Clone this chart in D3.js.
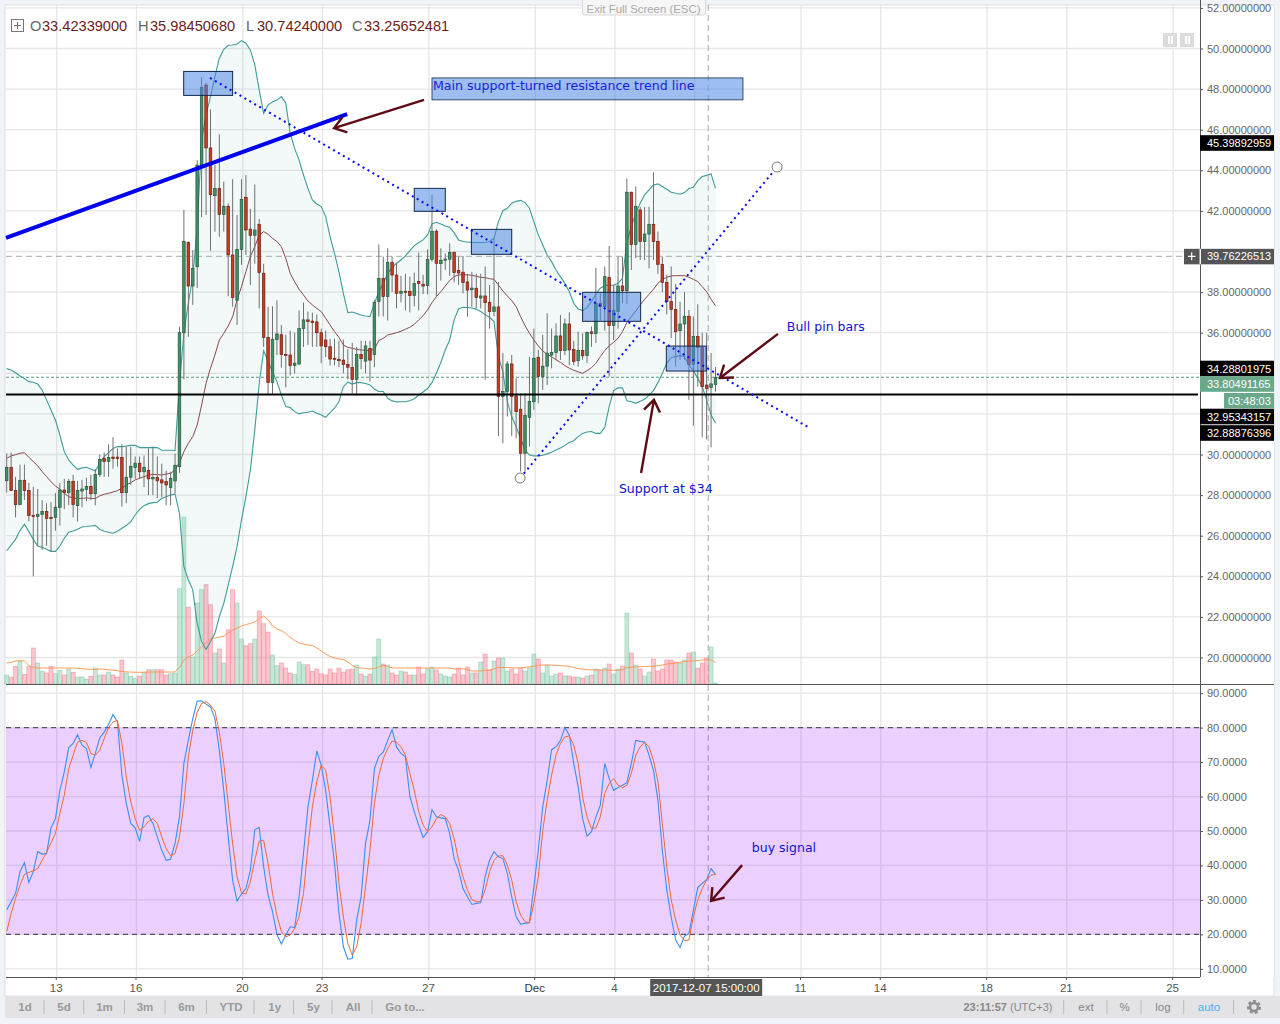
<!DOCTYPE html>
<html>
<head>
<meta charset="utf-8">
<script src="https://cdn.jsdelivr.net/npm/d3@7"></script>
<style>
  html, body { margin: 0; padding: 0; background: #f0f3f8; }
  svg { display: block; font-family: "Liberation Sans", Arial, sans-serif; }
  .domain { display: none; }
</style>
</head>
<body>
<script>
// one candle every 4 hours
var opens = [
  28.71,29.37,28.22,27.53,28.73,28.22,27.0,26.95,27.04,27.2,
  26.9,26.9,27.4,28.25,28.12,28.68,27.48,28.2,28.27,28.43,
  28.07,29.02,29.8,29.65,29.87,29.87,29.86,28.12,28.88,29.37,
  29.57,29.15,29.22,28.8,28.87,28.75,28.67,28.37,28.7,29.4,
  36.0,40.45,38.3,39.25,44.26,48.2,45.1,42.75,43.1,41.83,
  42.23,39.83,37.6,40.1,42.67,41.1,40.8,41.34,38.93,35.77,
  33.54,35.66,35.9,34.93,34.9,34.38,34.46,36.2,36.63,36.57,
  36.53,36.0,35.64,35.31,34.74,34.69,34.65,34.44,34.28,33.7,
  34.93,34.6,35.23,34.93,37.53,38.68,37.78,39.47,38.84,37.94,
  38.04,38.04,37.83,38.53,38.39,38.32,39.6,41.0,39.4,39.57,
  39.62,39.96,39.07,38.98,38.5,38.12,38.19,37.71,37.81,37.5,
  37.04,37.27,32.85,33.11,34.46,32.88,32.23,30.06,31.83,32.6,
  34.79,33.84,34.35,34.9,35.02,35.84,35.12,36.43,35.18,34.62,
  35.13,34.87,36.04,35.96,37.45,37.28,38.73,36.35,37.04,38.3,
  38.07,42.92,40.34,42.05,40.49,40.86,41.34,40.5,39.37,38.48,
  37.53,37.14,36.1,36.43,36.81,34.44,35.81,35.3,33.42,33.3,
  33.45]
var closes = [
  29.37,28.22,27.53,28.73,28.22,26.99,26.95,27.05,27.2,26.85,
  26.85,27.4,28.25,28.12,28.68,27.53,28.22,28.3,28.43,28.07,
  29.02,29.76,29.65,29.86,29.8,29.8,28.12,28.88,29.42,29.57,
  29.15,29.37,28.8,28.87,28.7,28.6,28.5,28.83,29.47,36.0,
  40.5,38.3,39.17,44.26,48.09,45.1,42.8,43.1,41.83,42.23,
  39.83,37.73,40.1,42.57,41.06,40.8,41.06,38.96,35.77,33.54,
  35.67,35.94,34.93,34.87,34.38,34.5,36.2,36.63,36.55,36.5,
  36.0,35.35,35.31,34.7,34.69,34.62,34.44,34.3,33.7,34.93,
  34.72,35.35,34.65,37.5,38.68,37.78,39.47,38.84,37.94,38.04,
  38.0,37.83,38.43,38.42,38.3,39.6,41.0,39.42,39.57,39.63,
  39.95,38.96,38.94,38.47,38.1,38.2,37.73,37.81,37.48,37.04,
  37.27,32.85,33.11,34.46,32.85,32.11,30.06,31.93,32.62,34.74,
  33.84,34.35,34.99,35.03,35.84,35.12,36.43,35.15,34.58,35.13,
  34.86,36.02,35.96,37.45,37.28,38.76,36.35,37.1,38.3,38.07,
  42.92,40.34,42.23,40.49,40.86,41.34,40.49,39.37,38.48,37.53,
  37.14,36.05,36.43,36.81,34.44,35.81,35.27,33.34,33.26,33.48,
  33.8]
var highs = [
  30.06,30.1,28.9,29.5,29.5,28.6,28.4,28.3,27.75,27.6,
  27.65,28.1,28.6,28.8,28.8,29.0,28.7,28.75,28.85,29.0,
  29.3,30.0,30.1,30.5,30.85,30.3,30.5,30.4,30.38,29.9,
  29.9,29.95,30.3,30.35,29.9,29.55,29.2,29.15,30.05,36.3,
  42.05,40.5,40.07,44.5,48.58,48.3,47.0,44.26,45.77,43.44,
  42.37,43.56,41.8,43.56,43.77,42.1,43.3,41.6,39.4,37.27,
  37.3,37.6,36.38,35.9,36.1,36.0,37.1,37.48,37.04,36.99,
  36.9,36.2,36.1,35.7,35.7,35.6,35.66,35.2,35.5,35.3,
  35.6,35.6,35.6,37.6,40.35,39.75,40.16,39.75,39.4,38.8,
  38.9,38.76,38.96,39.95,38.85,40.1,42.79,41.1,40.16,39.9,
  40.4,40.0,39.75,39.78,38.9,39.0,38.9,38.9,39.26,38.35,
  40.65,38.5,35.0,34.6,34.9,33.75,33.0,33.0,34.8,36.2,
  35.15,35.9,36.96,36.2,36.46,36.87,36.7,37.0,35.6,36.05,
  35.97,36.05,36.3,39.2,37.95,39.26,40.27,38.35,39.75,39.75,
  43.6,42.95,43.2,42.2,42.2,42.2,43.9,40.98,39.75,38.85,
  39.26,38.4,37.53,38.0,37.12,36.8,37.4,36.0,35.98,35.0,
  34.3]
var lows = [
  28.12,28.2,26.9,27.5,27.76,26.7,24.0,25.5,25.3,25.5,
  25.2,26.25,26.5,27.3,27.5,26.9,26.7,27.4,27.7,27.75,
  27.5,28.9,28.9,28.9,29.3,29.4,27.43,27.6,28.5,28.8,
  28.8,28.4,28.0,28.0,27.85,27.9,27.5,27.5,28.1,29.1,
  33.7,35.8,37.37,38.2,41.7,41.8,40.04,40.98,40.73,40.98,
  37.8,37.28,36.38,39.34,39.83,38.35,39.4,37.2,35.3,32.93,
  32.93,34.9,34.28,33.3,33.9,34.0,34.4,35.3,35.4,35.3,
  35.3,34.5,34.8,34.38,34.4,34.3,34.0,33.7,33.0,32.9,
  34.2,34.0,33.6,34.3,36.79,36.8,36.6,38.0,37.2,37.5,
  37.1,37.0,37.3,37.1,37.9,37.89,39.5,37.8,38.57,39.1,
  38.8,38.48,38.35,37.94,36.79,37.28,37.2,37.2,33.67,36.2,
  36.8,30.9,30.55,31.87,30.9,30.8,29.16,29.16,30.4,32.2,
  32.52,33.18,33.43,34.25,34.66,34.66,34.9,34.4,34.4,34.33,
  34.66,34.5,35.3,35.5,36.6,36.1,33.84,35.64,36.2,37.45,
  37.4,39.09,39.67,39.58,39.58,39.17,39.58,38.9,38.0,36.9,
  35.73,34.33,34.66,34.66,32.69,31.42,33.34,30.85,30.74,30.35,
  33.1]
// volume in arbitrary units, the price pane has no volume axis
var volumes = [
  8.7,7,17.7,22.7,9.7,17.7,36,21,13,11,
  17.7,10.3,13.7,9,15,11.7,7,7,5,7.7,
  16,9,9,12,9,7,24,11,7.7,5.7,
  8,11.7,14.3,14.3,14.3,14.3,9,10.3,11,95.3,
  167,77,27,81,94.3,99.3,79.3,31,35,21,
  54.3,94.3,81,45,38.3,40.3,45,73,60.3,52,
  29,18.3,21,16,11,9.7,22,19.3,19.3,12.7,
  15,10.3,9,15,11,16,12,14.3,15,19,
  10,8,10,27,45,20,19,11,9,13,
  12,9,9,17,10,15.3,17,14,10,8,
  7,10,16,9,17,11,11,22,30,14,
  23,26,26,13,15,10,16,13,16,30,
  25,11,19,8,10,11,8,8,7,7,
  6,8,9,15,14,16,20,10,15,18,
  71,31,19,15,8,12,25,13,15,24,
  24,22,21,24,31,32,16,21,26,37,
  1]
var volumeMA = [
  21,21.7,23,23.2,23.3,18.3,17,16,16,16,
  16,16,16,16,16,16,15.5,15.3,15,14.6,
  14.6,15,14.7,14.2,13.8,13.2,12.6,12.1,12,11.8,
  11.7,11.8,12,12,12,12,12,12,12,16.5,
  24,27,29,33,37,41,45,46,47,47.7,
  51,54,56,58,59.5,60.5,62,65.5,68,64.3,
  58,55,53.5,50.5,46.5,43.5,41,40,39,38.6,
  36,33,30,27.5,26,25,24.5,22,18.5,16.5,
  16,15.5,15,15.5,17,18.7,17.5,16,16,16,
  16,16,16,16,16,16,16,16,16,16,
  16,15,15,15.3,14.5,13,13,13.2,13.5,14,
  15,16.7,16.4,16.5,16.3,16,16.2,16.8,17.2,17.7,
  18.5,19,19,19,18.5,18.3,18,17.7,16.5,15.5,
  15,14.3,14.2,14.1,14,14,13.8,13.7,13.7,14.5,
  16.5,16.8,17,17.2,17.5,17.7,17.7,18.3,19,20,
  20.5,21,21.7,22.5,23,23,23.5,24,24.3,24,
  21.7]
var bandUpper = [
  34.23,34.16,34.03,33.87,33.74,33.59,33.56,33.47,33.18,32.69,
  32.19,31.7,30.96,30.14,29.73,29.48,29.27,29.34,29.37,29.29,
  29.19,29.57,29.9,30.09,30.3,30.39,30.39,30.42,30.45,30.45,
  30.34,30.34,30.34,30.35,30.34,30.21,30.21,30.21,30.2,33.5,
  36.0,37.45,38.76,41.2,45.5,46.73,47.63,48.61,49.52,49.96,
  50.16,50.17,50.22,50.39,50.26,49.93,49.19,47.96,46.81,47.22,
  47.37,47.46,47.63,47.3,45.82,45.08,44.5,43.77,43.11,42.54,
  42.34,42.21,41.72,40.73,39.91,39.0,37.94,36.99,37.02,36.95,
  36.87,36.82,36.79,37.45,38.02,38.43,38.93,39.22,39.42,39.58,
  39.78,40.04,40.29,40.44,40.57,40.82,41.36,41.44,41.36,41.26,
  41.19,40.93,40.57,40.49,40.47,40.44,40.44,40.44,40.44,40.49,
  40.65,41.47,42.01,42.13,42.38,42.47,42.52,42.41,42.13,41.47,
  40.82,40.32,39.83,39.5,39.09,38.76,38.43,38.02,37.45,37.17,
  37.09,37.25,37.53,37.91,38.19,38.32,38.35,38.34,38.43,38.68,
  40.49,41.23,41.88,42.38,42.79,43.03,43.28,43.33,43.2,43.07,
  42.92,42.87,42.82,42.9,43.1,43.16,43.49,43.69,43.75,43.82,
  43.11]
var bandLower = [
  25.26,25.54,25.82,26.25,26.56,26.2,25.82,25.49,25.43,25.33,
  25.23,25.23,25.49,25.87,26.17,26.23,26.32,26.43,26.45,26.48,
  26.51,26.32,26.22,26.17,26.12,26.22,26.37,26.5,26.69,27.02,
  27.3,27.48,27.58,27.63,27.65,27.84,27.92,28.0,28.06,27.1,
  24.48,23.82,23.33,21.68,20.78,20.4,20.78,21.19,22.01,22.67,
  23.57,24.48,25.46,26.78,27.92,29.24,31.2,33.5,35.12,34.57,
  34.08,33.59,32.93,32.36,32.31,32.11,32.0,32.06,32.08,32.14,
  32.03,31.95,31.83,32.06,32.28,32.6,33.34,33.56,33.47,33.54,
  33.54,33.5,33.43,33.21,33.1,33.1,32.77,32.64,32.59,32.6,
  32.6,32.65,32.75,32.92,33.08,33.25,33.54,34.0,34.53,35.15,
  35.64,36.63,37.17,37.25,37.24,37.22,37.15,37.04,36.89,36.76,
  36.55,34.82,34.08,32.6,31.87,31.37,30.8,30.2,29.98,29.93,
  29.93,29.96,30.03,30.11,30.22,30.32,30.45,30.59,30.68,30.88,
  31.04,31.11,31.13,31.04,31.04,31.34,32.36,33.15,33.28,33.28,
  32.65,32.6,32.52,32.62,32.72,32.93,33.15,33.54,34.0,34.49,
  34.77,34.82,34.87,34.82,34.41,34.13,33.75,33.34,32.69,31.95,
  31.54]
var bandMid = [
  29.81,29.93,29.99,30.06,30.09,29.86,29.65,29.44,29.16,28.91,
  28.66,28.45,28.29,28.09,27.92,27.86,27.83,27.84,27.86,27.84,
  27.83,27.96,28.04,28.09,28.15,28.22,28.34,28.5,28.61,28.75,
  28.83,28.91,28.98,29.02,29.01,28.99,29.04,29.07,29.24,29.6,
  30.14,30.55,30.88,31.45,32.44,33.51,34.25,34.9,35.64,35.97,
  36.33,36.79,37.61,38.27,39.01,39.75,40.24,40.81,40.98,40.85,
  40.65,40.49,40.24,39.66,38.92,38.51,38.14,37.86,37.56,37.37,
  37.2,37.04,36.71,36.38,36.05,35.77,35.39,35.28,35.23,35.18,
  35.15,35.13,35.13,35.18,35.62,35.72,35.89,35.94,36.0,36.07,
  36.17,36.27,36.41,36.63,36.84,37.12,37.48,37.78,38.02,38.3,
  38.57,38.76,38.85,38.85,38.85,38.83,38.78,38.73,38.71,38.66,
  38.63,38.35,38.06,37.81,37.58,37.29,36.79,36.35,35.97,35.64,
  35.35,35.1,34.94,34.82,34.66,34.54,34.38,34.25,34.15,34.07,
  34.0,34.13,34.28,34.49,34.82,35.12,35.35,35.53,35.72,36.05,
  36.5,36.79,37.07,37.37,37.65,37.89,38.14,38.43,38.63,38.73,
  38.8,38.81,38.81,38.81,38.73,38.63,38.52,38.27,38.02,37.65,
  37.33]
var stochK = [
  27.05,29.5,31.9,38.2,40.8,35.1,38.2,44,43.3,43.5,
  50.9,53.6,61.8,67.1,74.2,75.4,77.9,74.9,73.9,68.4,
  72.5,77,78.7,81,83.8,81.6,66.2,58,52.2,50.9,
  47,53.9,54.5,52.2,48.3,44.4,41.5,41.8,46.4,54.1,
  69.6,76.3,82.6,87.7,87.8,86.8,86,82.6,73.4,61.8,
  48.3,35.7,29.7,31.7,33.3,38.6,50.4,51,39.6,31.4,
  26.6,20,17.2,19.8,22.2,22,30.9,43.5,57,64.7,
  73.2,69.1,61.8,51.2,40.6,26.1,16.4,12.8,13,24.2,
  30.9,46.4,53.1,68.1,71.7,72.9,76.3,79.4,74.4,72.5,
  71.5,60.1,55.6,51.7,48.1,49.8,56.2,54.1,53.8,53.6,
  49.3,42,38.6,33.3,30.9,28.7,29,29.2,36.8,41.5,
  44,42.5,42,37.7,30.9,25.1,23,23.2,23.4,33.8,
  44.4,57,64.7,73.6,74.4,76.3,80,77.8,69.6,62.8,
  53.6,48.5,49.8,54.1,57.5,69.6,65.2,61.8,62.6,63.3,
  64,69.6,76.3,76,75.8,72,67.6,58.9,44.4,32.9,
  25,18.4,16.2,19.5,20.3,27,33.6,34.8,35.9,39.1,
  37.4]
var stochD = [
  20.8,26.1,30.4,34.3,37.4,38,38.4,39.1,41.5,43.8,
  46.6,49.3,55.1,60.4,68.1,72,75.8,76.3,75.7,72.5,
  72,73.4,76.8,80,81.6,82.1,75.4,65.7,58.5,53.6,
  50.2,51.2,52.7,53.6,52.2,48.3,44.9,42.8,43.5,48.3,
  58,71.5,79.2,84.5,87,87.5,86.5,84.8,78.7,69.6,
  58,46.4,36.7,32.1,31.7,35.3,41.5,47.1,47.3,40.6,
  31.9,25.6,20.8,19.3,19.8,21.7,25.1,31.9,45.4,57,
  64.3,69.1,67.6,59.9,48.3,34.8,25.1,17.4,14,16.4,
  23.2,33.8,44.4,58,66.2,71,73.9,76.1,75.8,74.4,
  72,66.7,61.8,55.6,51.7,49.8,51.2,53.6,54.8,54.1,
  52.2,47.8,41.5,36.7,32.9,30.1,29.5,29.5,32.9,38.2,
  41.5,42.8,42.8,40.1,35.8,29.5,25.6,23.7,23.4,29,
  36.7,50.2,58.9,66.2,72,75.4,77.3,77.6,74.9,69.6,
  59.9,54.1,50.7,50.9,54.1,60.9,63.8,65.2,63.3,62.6,
  63.3,66.7,72,74.4,75.8,74.4,70.5,64.3,52.2,39.6,
  30,24.2,19.8,18.2,18.4,25.1,30,33.3,35.8,37.2,
  37.4]

var priceTicks = [20,22,24,26,28,30,32,34,36,38,40,42,44,46,48,50,52]
// these tick labels sit behind the price tags on the axis
var hiddenPriceLabels = [32,34,40]
var stochTicks = [10,20,30,40,50,60,70,80,90]
var dayLabels = ['13','16','20','23','27','Dec','4','','11','14','18','21','25']
var dayIndex = [11.3,29.3,53.3,71.3,95.3,119.3,137.3,155.3,179.3,197.3,221.3,239.3,263.3]

// drawings on the chart, [candle index, price]
var thickTrend = [[-0.16,40.67],[76.85,46.77]]
var dottedTrendDown = [[45.9,48.55],[180.9,31.35]]
var dottedTrendUp = [[115.9,28.84],[173.9,44.16]]
var supportPrice = 32.95343157
var lastPrice = 33.80491165
var crossPrice = 39.76226513
var crossIndex = 158.35
var noteBoxes = [
  [39.95,51.0,48.87,47.69],
  [92.0,99.0,43.11,41.98],
  [104.9,114.0,41.09,39.86],
  [130.0,143.1,37.99,36.56],
  [148.9,157.9,35.34,34.11]]
var priceArrows = [
  [94.2,47.47,73.9,46.08],
  [174.1,35.94,161.0,33.77],
  [143.2,29.09,146.1,32.69]]
var stochArrow = [166,40.1,159,29.7]
var priceTags = [
  {label:'45.39892959', y:143, bg:'#000', fg:'#fff'},
  {label:'34.28801975', y:368.5, bg:'#000', fg:'#fff'},
  {label:'33.80491165', y:384, bg:'#6aa88a', fg:'#fff'},
  {label:'32.95343157', y:416.5, bg:'#000', fg:'#fff'},
  {label:'32.88876396', y:433, bg:'#000', fg:'#fff'}]
var toolbarLeft = [['1d',25],['5d',64],['1m',104.5],['3m',145],['6m',186.5],['YTD',231],['1y',274.7],['5y',313.5],['All',353],['Go to...',405]]
var toolbarLeftSeps = [44,83.7,124.5,165,206.5,254,293.5,332,372]
var toolbarRight = [['ext',1086,'#888'],['%',1124.5,'#888'],['log',1163,'#888'],['auto',1209,'#4db0f0']]
var toolbarRightSeps = [1063.7,1107,1141,1183.7,1233.5]
var ohlc = [['O','33.42339000',30,42],['H','35.98450680',138,150],['L','30.74240000',246,257],['C','33.25652481',352,364]]

var width = 1280, height = 1024
var left = 6, right = 1200

var svg = d3.select('body').append('svg')
    .attr('width', width)
    .attr('height', height)

// chart background
svg.append('rect').attr('x', 5).attr('y', 5).attr('width', 1269).attr('height', 991)
    .attr('fill', 'white').attr('stroke', '#dedede')

var x = d3.scaleLinear().domain([0, 160]).range([6.7, 715.5])
var y = d3.scaleLinear().domain([20, 50]).range([657.5, 48.5])
var yVol = d3.scaleLinear().domain([0, 168]).range([684, 516])
var yStoch = d3.scaleLinear().domain([20, 80]).range([934.4, 727.6])

var idx = d3.range(opens.length)

// grid
var grid = svg.append('g').attr('stroke', '#e6e6e6').attr('stroke-width', 1.3)
grid.selectAll('.gx').data(dayIndex).enter().append('line')
    .attr('x1', d => x(d)).attr('x2', d => x(d)).attr('y1', 5).attr('y2', 977)
grid.selectAll('.gy').data(priceTicks).enter().append('line')
    .attr('x1', left).attr('x2', right).attr('y1', d => y(d)).attr('y2', d => y(d))
grid.selectAll('.gs').data(stochTicks).enter().append('line')
    .attr('x1', left).attr('x2', right).attr('y1', d => yStoch(d)).attr('y2', d => yStoch(d))

// volume
svg.append('g').selectAll('rect').data(idx).enter().append('rect')
    .attr('x', d => x(d) - 2)
    .attr('width', 4)
    .attr('y', d => yVol(volumes[d]))
    .attr('height', d => yVol(0) - yVol(volumes[d]))
    .attr('fill', d => closes[d] >= opens[d] ? 'rgba(130,205,170,.45)' : 'rgba(248,120,135,.42)')
    .attr('stroke', d => closes[d] >= opens[d] ? 'rgba(100,190,150,.5)' : 'rgba(240,110,135,.55)')
    .attr('stroke-width', 0.7)

svg.append('path')
    .attr('d', d3.line().x(d => x(d)).y(d => yVol(volumeMA[d]))(idx))
    .attr('fill', 'none').attr('stroke', '#ff9a5a').attr('stroke-width', 1)

// bollinger bands
svg.append('path')
    .attr('d', d3.area().x(d => x(d)).y0(d => y(bandLower[d])).y1(d => y(bandUpper[d]))(idx))
    .attr('fill', '#2a9d8f').attr('fill-opacity', 0.06)
;[bandUpper, bandLower].forEach(function(band){
  svg.append('path')
      .attr('d', d3.line().x(d => x(d)).y(d => y(band[d]))(idx))
      .attr('fill', 'none').attr('stroke', '#3f9c99').attr('stroke-width', 1.1)
})
svg.append('path')
    .attr('d', d3.line().x(d => x(d)).y(d => y(bandMid[d]))(idx))
    .attr('fill', 'none').attr('stroke', '#8b4a4d').attr('stroke-width', 1)

// level lines
svg.append('line').attr('x1', left).attr('x2', right).attr('y1', y(crossPrice)).attr('y2', y(crossPrice))
    .attr('stroke', '#aaa').attr('stroke-dasharray', '6 4')
svg.append('line').attr('x1', left).attr('x2', right).attr('y1', y(lastPrice)).attr('y2', y(lastPrice))
    .attr('stroke', '#5e9c7c').attr('stroke-dasharray', '3 2')
svg.append('line').attr('x1', x(crossIndex)).attr('x2', x(crossIndex)).attr('y1', 5).attr('y2', 977)
    .attr('stroke', '#aaa').attr('stroke-dasharray', '6 4')

// candles
var candles = svg.append('g').selectAll('g').data(idx).enter().append('g')
candles.append('line')
    .attr('x1', d => x(d)).attr('x2', d => x(d))
    .attr('y1', d => y(highs[d])).attr('y2', d => y(lows[d]))
    .attr('stroke', '#707070')
candles.append('rect')
    .attr('x', d => x(d) - 1.3)
    .attr('width', 2.6)
    .attr('y', d => y(Math.max(opens[d], closes[d])))
    .attr('height', d => Math.max(1, Math.abs(y(opens[d]) - y(closes[d]))))
    .attr('fill', d => closes[d] >= opens[d] ? '#458f66' : '#c63c25')
    .attr('stroke', d => closes[d] >= opens[d] ? '#1e5a3c' : '#6f1f12')
    .attr('stroke-width', 0.7)

// support level and trend lines
svg.append('line').attr('x1', left).attr('x2', right - 2).attr('y1', y(supportPrice)).attr('y2', y(supportPrice))
    .attr('stroke', 'black').attr('stroke-width', 2)

svg.selectAll('.box').data(noteBoxes).enter().append('rect')
    .attr('x', d => x(d[0])).attr('width', d => x(d[1]) - x(d[0]))
    .attr('y', d => y(d[2])).attr('height', d => y(d[3]) - y(d[2]))
    .attr('fill', '#4f86e3').attr('fill-opacity', 0.55)
    .attr('stroke', '#14284b')

var priceLine = d3.line().x(d => x(d[0])).y(d => y(d[1]))
svg.append('path').attr('d', priceLine(thickTrend))
    .attr('stroke', '#0000f0').attr('stroke-width', 4).attr('fill', 'none')
;[dottedTrendDown, dottedTrendUp].forEach(function(t){
  svg.append('path').attr('d', priceLine(t))
      .attr('stroke', '#0a0af5').attr('stroke-width', 2).attr('fill', 'none')
      .attr('stroke-dasharray', '2 3.7')
})
svg.selectAll('.handle').data([dottedTrendUp[0], dottedTrendUp[1]]).enter().append('circle')
    .attr('cx', d => x(d[0])).attr('cy', d => y(d[1])).attr('r', 5)
    .attr('fill', 'white').attr('stroke', '#777')

// arrows
function arrow(x1, y1, x2, y2) {
  var a = Math.atan2(y1 - y2, x1 - x2), len = 14, spread = 0.62
  var p = d3.path()
  p.moveTo(x1, y1); p.lineTo(x2, y2)
  p.moveTo(x2 + len * Math.cos(a - spread), y2 + len * Math.sin(a - spread))
  p.lineTo(x2, y2)
  p.lineTo(x2 + len * Math.cos(a + spread), y2 + len * Math.sin(a + spread))
  svg.append('path').attr('d', p.toString())
      .attr('fill', 'none').attr('stroke', '#5e0b15').attr('stroke-width', 2.4)
}
priceArrows.forEach(function(d){ arrow(x(d[0]), y(d[1]), x(d[2]), y(d[3])) })

// stochastic pane
svg.append('rect').attr('x', left).attr('width', right - left)
    .attr('y', yStoch(80)).attr('height', yStoch(20) - yStoch(80))
    .attr('fill', '#9915ff').attr('fill-opacity', 0.2)
svg.selectAll('.bound').data([20, 80]).enter().append('line')
    .attr('x1', left).attr('x2', right).attr('y1', d => yStoch(d)).attr('y2', d => yStoch(d))
    .attr('stroke', '#5a5060').attr('stroke-dasharray', '5 4').attr('stroke-width', 1.2)
svg.append('path')
    .attr('d', d3.line().x(d => x(d)).y(d => yStoch(stochK[d]))(idx))
    .attr('fill', 'none').attr('stroke', '#3d8ff0').attr('stroke-width', 1.1)
svg.append('path')
    .attr('d', d3.line().x(d => x(d)).y(d => yStoch(stochD[d]))(idx))
    .attr('fill', 'none').attr('stroke', '#ee6a35').attr('stroke-width', 1)
arrow(x(stochArrow[0]), yStoch(stochArrow[1]), x(stochArrow[2]), yStoch(stochArrow[3]))

// annotation text
var notes = svg.append('g').attr('font-family', '"DejaVu Sans", sans-serif').attr('font-size', 12.5).attr('fill', '#1212d2')
notes.append('text').attr('x', x(176.1)).attr('y', y(36.08)).text('Bull pin bars')
notes.append('text').attr('x', x(138.2)).attr('y', y(28.1)).text('Support at $34')
notes.append('text').attr('x', x(168.2)).attr('y', yStoch(43.9)).text('buy signal')

svg.append('rect').attr('x', x(96)).attr('width', x(166.2) - x(96))
    .attr('y', y(48.55)).attr('height', y(47.47) - y(48.55))
    .attr('fill', '#4f86e3').attr('fill-opacity', 0.55).attr('stroke', '#14284b').attr('stroke-width', 0.8)
svg.append('text').attr('x', x(96) + 1).attr('y', y(48.55) + 12)
    .attr('font-family', '"DejaVu Sans", sans-serif').attr('font-size', 12.6).attr('fill', '#1a22d8')
    .text('Main support-turned resistance trend line')

// panes frame
svg.append('line').attr('x1', left).attr('x2', 1274).attr('y1', 684.5).attr('y2', 684.5).attr('stroke', '#555')
svg.append('line').attr('x1', left).attr('x2', right).attr('y1', 977.5).attr('y2', 977.5).attr('stroke', '#555')
svg.append('rect').attr('x', right).attr('y', 6).attr('width', 74).attr('height', 678).attr('fill', 'white')
svg.append('rect').attr('x', right).attr('y', 685).attr('width', 74).attr('height', 292).attr('fill', 'white')
svg.append('line').attr('x1', right + 0.5).attr('x2', right + 0.5).attr('y1', 0).attr('y2', 977).attr('stroke', '#555')

// axes
function styleAxis(g) {
  g.selectAll('line').attr('stroke', '#555')
  g.selectAll('text').attr('fill', '#666').attr('font-size', 11)
}
svg.append('g').attr('transform', 'translate(' + right + ',0)')
    .call(d3.axisRight(y).tickValues(priceTicks).tickSize(3).tickPadding(4)
      .tickFormat(d => hiddenPriceLabels.indexOf(d) >= 0 ? '' : d.toFixed(8)))
    .call(styleAxis)
svg.append('g').attr('transform', 'translate(' + right + ',0)')
    .call(d3.axisRight(yStoch).tickValues(stochTicks).tickSize(3).tickPadding(4).tickFormat(d => d.toFixed(4)))
    .call(styleAxis)
svg.append('g').attr('transform', 'translate(-1,977)')
    .call(d3.axisBottom(x).tickValues(dayIndex).tickSize(3).tickPadding(4).tickFormat((d, i) => dayLabels[i]))
    .call(styleAxis)
    .selectAll('text').attr('font-size', 11.5)
    .attr('fill', (d, i) => dayLabels[i] == 'Dec' ? '#333' : '#555')

// tags on the axes
var tags = svg.selectAll('.tag').data(priceTags).enter().append('g')
tags.append('rect').attr('x', right).attr('width', 74).attr('y', d => d.y - 7.8).attr('height', 15.6)
    .attr('fill', d => d.bg)
tags.append('text').attr('x', 1207).attr('y', d => d.y + 4).attr('fill', d => d.fg).attr('font-size', 11).text(d => d.label)

svg.append('rect').attr('x', 1224).attr('width', 50).attr('y', 393).attr('height', 15.4).attr('fill', '#6aa88a')
svg.append('text').attr('x', 1228).attr('y', 404.5).attr('fill', '#fff').attr('font-size', 11).text('03:48:03')

svg.append('rect').attr('x', 1184).attr('width', 90).attr('y', y(crossPrice) - 7.5).attr('height', 15.5).attr('fill', '#555')
svg.append('rect').attr('x', 1199.5).attr('width', 1.5).attr('y', y(crossPrice) - 7.5).attr('height', 15.5).attr('fill', '#f4f4f4')
svg.append('text').attr('x', 1207).attr('y', y(crossPrice) + 4).attr('fill', '#fff').attr('font-size', 11).text('39.76226513')
svg.append('path').attr('d', 'M1188,' + y(crossPrice) + 'h7.5M1191.7,' + (y(crossPrice) - 4) + 'v8').attr('stroke', '#fff').attr('stroke-width', 1.2)

svg.append('rect').attr('x', x(crossIndex) - 58).attr('width', 112).attr('y', 979).attr('height', 17).attr('fill', '#555')
svg.append('text').attr('x', x(crossIndex) - 2).attr('y', 992).attr('text-anchor', 'middle')
    .attr('fill', '#fff').attr('font-size', 11.5).text('2017-12-07 15:00:00')

// ohlc header
svg.append('rect').attr('x', 11.5).attr('y', 19.5).attr('width', 12).attr('height', 12)
    .attr('fill', 'white').attr('stroke', '#777')
svg.append('path').attr('d', 'M14,25.5h7M17.5,22v7').attr('stroke', '#777')
var head = svg.selectAll('.ohlc').data(ohlc).enter().append('g').attr('font-size', 14.6)
head.append('text').attr('x', d => d[2]).attr('y', 31).attr('fill', '#666').text(d => d[0])
head.append('text').attr('x', d => d[3]).attr('y', 31).attr('fill', '#6b1c1c').text(d => d[1])

// exit full screen tab
svg.append('rect').attr('x', 582.5).attr('y', -2).attr('width', 123).attr('height', 17)
    .attr('rx', 2).attr('fill', '#f6f6f6').attr('stroke', '#d8d8d8')
svg.append('text').attr('x', 643.5).attr('y', 13).attr('text-anchor', 'middle')
    .attr('font-size', 11.4).attr('fill', '#aaa').text('Exit Full Screen (ESC)')

// small faded buttons
svg.selectAll('.btn').data([1163, 1180]).enter().append('rect')
    .attr('x', d => d).attr('y', 33).attr('width', 14).attr('height', 14).attr('fill', '#dcdcdc')
svg.selectAll('.bar').data([1168, 1171, 1185, 1188]).enter().append('rect')
    .attr('x', d => d).attr('y', 36).attr('width', 2).attr('height', 8).attr('fill', '#fff')

// toolbar
svg.append('rect').attr('x', 5).attr('y', 996).attr('width', 1275).attr('height', 22).attr('fill', '#e3e3e6')
svg.selectAll('.tl').data(toolbarLeft).enter().append('text')
    .attr('x', d => d[1]).attr('y', 1011).attr('text-anchor', 'middle')
    .attr('font-size', 11.5).attr('font-weight', 'bold').attr('fill', '#999').text(d => d[0])
svg.selectAll('.tr').data(toolbarRight).enter().append('text')
    .attr('x', d => d[1]).attr('y', 1011).attr('text-anchor', 'middle')
    .attr('font-size', 11.5).attr('fill', d => d[2]).text(d => d[0])
svg.append('text').attr('x', 963.5).attr('y', 1011).attr('font-size', 11).attr('fill', '#888')
    .html('<tspan font-weight="bold">23:11:57</tspan> (UTC+3)')
svg.selectAll('.sep').data(toolbarLeftSeps.concat(toolbarRightSeps)).enter().append('line')
    .attr('x1', d => d).attr('x2', d => d).attr('y1', 1000).attr('y2', 1014).attr('stroke', '#bbb')
svg.append('circle').attr('cx', 1254).attr('cy', 1007).attr('r', 4).attr('fill', 'none')
    .attr('stroke', '#8c8c8c').attr('stroke-width', 2.5)
svg.append('circle').attr('cx', 1254).attr('cy', 1007).attr('r', 6).attr('fill', 'none')
    .attr('stroke', '#8c8c8c').attr('stroke-width', 2).attr('stroke-dasharray', '3 2.3')
</script>
</body>
</html>
